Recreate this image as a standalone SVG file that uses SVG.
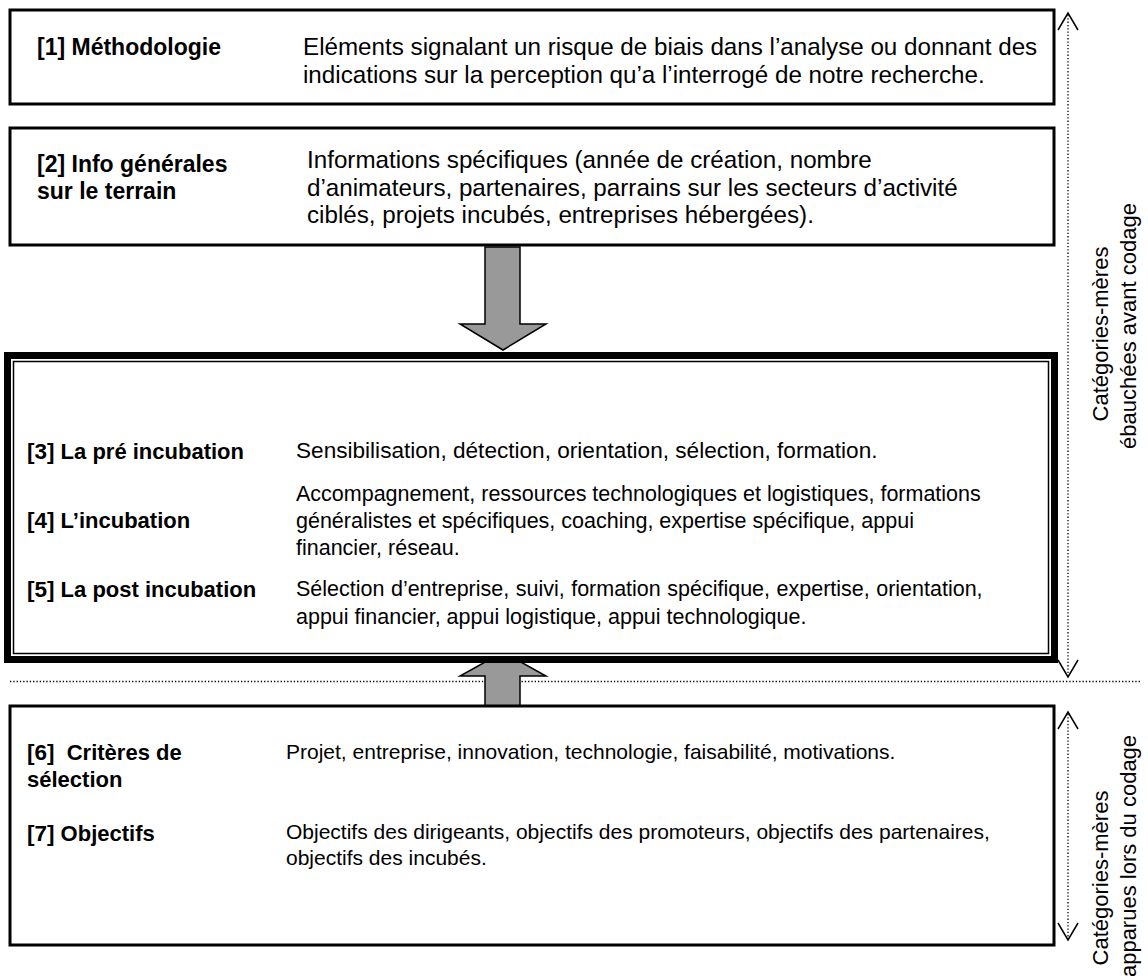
<svg xmlns="http://www.w3.org/2000/svg" width="1148" height="976" viewBox="0 0 1148 976">
<style>
  .box { fill: #fff; stroke: #000; stroke-width: 3; }
  .lbl { font-family: "Liberation Sans", Arial, sans-serif; font-weight: bold; fill: #000; }
  .txt { font-family: "Liberation Sans", Arial, sans-serif; fill: #000; }
  .t24 { font-size: 24.2px; }
  .t23 { font-size: 23px; }
  .t22 { font-size: 22px; }
  .t215 { font-size: 21.5px; }
  .t21 { font-size: 21px; }
  .big { fill: #999; stroke: #000; stroke-width: 1.5; stroke-linejoin: miter; }
  .dot { fill: none; stroke: #000; stroke-width: 1.3; stroke-dasharray: 1.3 2; }
  .chev { fill: none; stroke: #000; stroke-width: 1.5; }
  .vt { font-family: "Liberation Sans", Arial, sans-serif; font-size: 22px; fill: #000; text-anchor: middle; }
</style>

<g id="connectors">
  <line class="dot" x1="10" y1="681.5" x2="1140" y2="681.5"/>
  <polygon class="big" points="485,247 520,247 520,324 546,324 503,350 460,324 485,324"/>
  <polygon class="big" points="485,706 520,706 520,676 546,676 503,652 460,676 485,676"/>
  <g id="scope-top">
    <line class="dot" x1="1068" y1="15" x2="1068" y2="675"/>
    <polyline class="chev" points="1058,30 1068,13 1078,30"/>
    <polyline class="chev" points="1058,660 1068,677 1078,660"/>
  </g>
  <g id="scope-bottom">
    <line class="dot" x1="1068" y1="714" x2="1068" y2="938"/>
    <polyline class="chev" points="1058,729 1068,712 1078,729"/>
    <polyline class="chev" points="1058,923 1068,940 1078,923"/>
  </g>
</g>

<g id="node1">
  <rect class="box" x="10" y="10" width="1044" height="94"/>
  <text class="lbl t23" x="37" y="55">[1] Méthodologie</text>
  <text class="txt t24" x="303" y="55">Eléments signalant un risque de biais dans l’analyse ou donnant des</text>
  <text class="txt t24" x="303" y="83">indications sur la perception qu’a l’interrogé de notre recherche.</text>
</g>

<g id="node2">
  <rect class="box" x="10" y="128" width="1044" height="117"/>
  <text class="lbl t23" x="37" y="172">[2] Info générales</text>
  <text class="lbl t23" x="37" y="199">sur le terrain</text>
  <text class="txt t24" x="307" y="168">Informations spécifiques (année de création, nombre</text>
  <text class="txt t24" x="307" y="196">d’animateurs, partenaires, parrains sur les secteurs d’activité</text>
  <text class="txt t24" x="307" y="223">ciblés, projets incubés, entreprises hébergées).</text>
</g>

<g id="node-phases">
  <rect x="7.5" y="355.5" width="1047" height="304" fill="#fff" stroke="#000" stroke-width="7"/>
  <rect x="13.5" y="361.5" width="1035" height="292" fill="none" stroke="#000" stroke-width="1.5"/>
  <g id="node3">
    <text class="lbl t22" x="27" y="459"><tspan font-size="22.5px">[3]</tspan> La pré incubation</text>
    <text class="txt" font-size="22.6px" x="296" y="458">Sensibilisation, détection, orientation, sélection, formation.</text>
  </g>
  <g id="node4">
    <text class="lbl t22" x="27" y="528"><tspan font-size="22.5px">[4]</tspan> L’incubation</text>
    <text class="txt t215" x="296" y="501">Accompagnement, ressources technologiques et logistiques, formations</text>
    <text class="txt t215" x="296" y="528">généralistes et spécifiques, coaching, expertise spécifique, appui</text>
    <text class="txt t215" x="296" y="555">financier, réseau.</text>
  </g>
  <g id="node5">
    <text class="lbl t22" x="27" y="597"><tspan font-size="22.5px">[5]</tspan> La post incubation</text>
    <text class="txt t215" x="296" y="596" word-spacing="0.5">Sélection d’entreprise, suivi, formation spécifique, expertise, orientation,</text>
    <text class="txt t215" x="296" y="624">appui financier, appui logistique, appui technologique.</text>
  </g>
</g>

<g id="node-emergent">
  <rect class="box" x="10" y="706" width="1044" height="239"/>
  <g id="node6">
    <text class="lbl t22" x="27" y="760"><tspan font-size="22.5px">[6]</tspan>&#160; Critères de</text>
    <text class="lbl t22" x="27" y="787">sélection</text>
    <text class="txt t21" x="286" y="759">Projet, entreprise, innovation, technologie, faisabilité, motivations.</text>
  </g>
  <g id="node7">
    <text class="lbl t22" x="27" y="841"><tspan font-size="22.5px">[7]</tspan> Objectifs</text>
    <text class="txt t21" x="286" y="839">Objectifs des dirigeants, objectifs des promoteurs, objectifs des partenaires,</text>
    <text class="txt t21" x="286" y="865">objectifs des incubés.</text>
  </g>
</g>

<g id="label-top">
  <text class="vt" transform="translate(1108,334) rotate(-90)">Catégories-mères</text>
  <text class="vt" transform="translate(1136,326) rotate(-90)">ébauchées avant codage</text>
</g>
<g id="label-bottom">
  <text class="vt" transform="translate(1108,878) rotate(-90)">Catégories-mères</text>
  <text class="vt" transform="translate(1136,856) rotate(-90)">apparues lors du codage</text>
</g>
</svg>
